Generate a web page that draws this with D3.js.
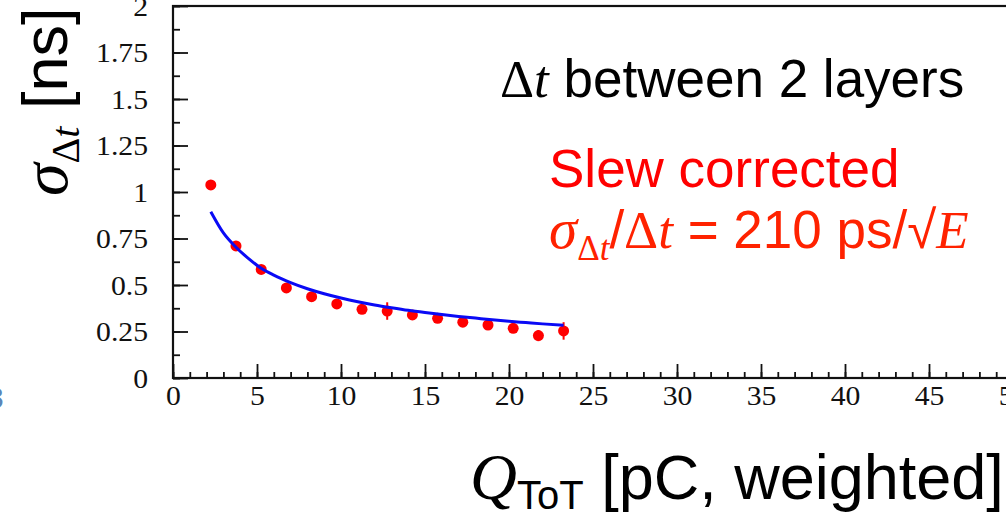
<!DOCTYPE html>
<html>
<head>
<meta charset="utf-8">
<script src="https://cdn.jsdelivr.net/npm/d3@7"></script>
<style>
    body { margin: 0; background: #fff; overflow: hidden; }
    svg { display: block; }
    .serif { font-family: "Liberation Serif", "Times New Roman", serif; }
    .sans { font-family: "Liberation Sans", Arial, Helvetica, sans-serif; }
</style>
</head>
<body>
<div id="chart"></div>
<script>
// measured points (bin centres in Q, sigma in ns)
const charge = [2.25, 3.75, 5.25, 6.75, 8.25, 9.75, 11.25, 12.75, 14.25, 15.75, 17.25, 18.75, 20.25, 21.75, 23.25]
const sigma = [1.038, 0.71, 0.584, 0.484, 0.437, 0.398, 0.369, 0.36, 0.339, 0.321, 0.3, 0.285, 0.267, 0.228, 0.253]
const sigmaErr = [0.012, 0.014, 0.015, 0.016, 0.017, 0.018, 0.02, 0.047, 0.022, 0.024, 0.022, 0.02, 0.02, 0.03, 0.047]

// fitted curve
const fitCharge = [2.25, 3, 3.75, 4.5, 5.25, 6, 7, 8, 9, 10, 11, 12, 13, 14, 15, 16, 17, 18, 19, 20, 21, 22, 23.25]
const fitSigma = [0.894, 0.78, 0.703, 0.642, 0.59, 0.553, 0.513, 0.48, 0.453, 0.43, 0.41, 0.393, 0.378, 0.364, 0.352, 0.341, 0.331, 0.322, 0.313, 0.305, 0.298, 0.291, 0.283]

const xTicks = [0, 5, 10, 15, 20, 25, 30, 35, 40, 45, 50]
const xMinorTicks = d3.range(0, 51, 1)
const yTicks = [0, 0.25, 0.5, 0.75, 1, 1.25, 1.5, 1.75, 2]
const yMinorTicks = d3.range(0, 2.01, 0.125)

const width = 1006
const height = 513
const margin = {left: 173, top: 6, right: -7, bottom: 135}

const x = d3.scaleLinear()
    .domain([0, 50])
    .range([margin.left, width - margin.right])
const y = d3.scaleLinear()
    .domain([0, 2])
    .range([height - margin.bottom, margin.top])

const svg = d3.select("#chart")
    .append("svg")
    .attr("width", width)
    .attr("height", height)

// frame
svg.append("rect")
    .attr("x", x(0))
    .attr("y", y(2))
    .attr("width", x(50) - x(0))
    .attr("height", y(0) - y(2))
    .style("fill", "none")
    .style("stroke", "#111")
    .style("stroke-width", 2.2)

// inward ticks
const tickLine = (g) => g.selectAll(".domain").remove()
const xAxisMinor = svg.append("g")
    .attr("transform", `translate(0,${y(0)})`)
    .call(d3.axisBottom(x).tickValues(xMinorTicks).tickSize(-6).tickFormat(""))
    .call(tickLine)
const xAxis = svg.append("g")
    .attr("transform", `translate(0,${y(0)})`)
    .call(d3.axisBottom(x).tickValues(xTicks).tickSize(-14).tickPadding(30).tickFormat(String))
    .call(tickLine)
const yAxisMinor = svg.append("g")
    .attr("transform", `translate(${x(0)},0)`)
    .call(d3.axisLeft(y).tickValues(yMinorTicks).tickSize(-7).tickFormat(""))
    .call(tickLine)
const yAxis = svg.append("g")
    .attr("transform", `translate(${x(0)},0)`)
    .call(d3.axisLeft(y).tickValues(yTicks).tickSize(-15).tickPadding(40).tickFormat(String))
    .call(tickLine)

svg.selectAll(".tick line")
    .style("stroke", "#111")
    .style("stroke-width", 1.8)

xAxis.selectAll("text")
    .attr("class", "serif")
    .attr("y", 0)
    .attr("dy", 0)
    .attr("transform", "translate(0,27) scale(1.08,1)")
    .style("font-size", "27.5px")
    .style("fill", "#111")
yAxis.selectAll("text")
    .attr("class", "serif")
    .attr("x", 0)
    .attr("dy", "0.34em")
    .attr("transform", "translate(-25,0) scale(1.08,1)")
    .style("font-size", "27.5px")
    .style("fill", "#111")

// error bars
svg.selectAll("line.err")
    .data(charge)
    .enter()
    .append("line")
    .classed("err", true)
    .attr("x1", d => x(d))
    .attr("x2", d => x(d))
    .attr("y1", (d, i) => y(sigma[i] - sigmaErr[i]))
    .attr("y2", (d, i) => y(sigma[i] + sigmaErr[i]))
    .style("stroke", "#f00")
    .style("stroke-width", 2)

svg.selectAll("circle.point")
    .data(charge)
    .enter()
    .append("circle")
    .classed("point", true)
    .attr("cx", d => x(d))
    .attr("cy", (d, i) => y(sigma[i]))
    .attr("r", 5.5)
    .style("fill", "#f00")

const fit = d3.line()
    .x(d => x(d[0]))
    .y(d => y(d[1]))
    .curve(d3.curveMonotoneX)

svg.append("path")
    .datum(d3.zip(fitCharge, fitSigma))
    .attr("d", fit)
    .style("fill", "none")
    .style("stroke", "#0a0af5")
    .style("stroke-width", 3)

// annotations
const note = svg.append("text")
    .attr("x", 500)
    .attr("y", 97)
    .attr("class", "sans")
    .style("font-size", "53px")
    .style("fill", "#000")
note.append("tspan").attr("class", "serif").text("\u0394")
note.append("tspan").attr("class", "serif").style("font-style", "italic").text("t")
note.append("tspan").text(" between 2 layers")

svg.append("text")
    .attr("x", 549)
    .attr("y", 187)
    .attr("class", "sans")
    .style("font-size", "53px")
    .style("fill", "#ff0000")
    .text("Slew corrected")

const formula = svg.append("text")
    .attr("x", 549)
    .attr("y", 248)
    .attr("class", "sans")
    .style("font-size", "53px")
    .style("fill", "#ff2200")
formula.append("tspan").attr("class", "serif").style("font-style", "italic").style("font-size", "57px").text("\u03c3")
formula.append("tspan").attr("class", "serif").attr("dy", 12).style("font-size", "35px").text("\u0394")
formula.append("tspan").attr("class", "serif").style("font-style", "italic").style("font-size", "35px").text("t")
formula.append("tspan").attr("dy", -12).text("/")
formula.append("tspan").attr("class", "serif").text("\u0394")
formula.append("tspan").attr("class", "serif").style("font-style", "italic").text("t")
formula.append("tspan").text(" = 210 ps/\u221a")
formula.append("tspan").attr("class", "serif").style("font-style", "italic").text("E")

// axis titles
const xTitle = svg.append("text")
    .attr("x", 470)
    .attr("y", 499)
    .attr("class", "sans")
    .style("font-size", "63px")
    .style("fill", "#000")
xTitle.append("tspan").attr("class", "serif").style("font-style", "italic").style("font-size", "65px").text("Q")
xTitle.append("tspan").attr("dy", 10).style("font-size", "40px").text("ToT")
xTitle.append("tspan").attr("dy", -10).text(" [pC, weighted]")

const yTitle = svg.append("text")
    .attr("transform", "translate(67,196) rotate(-90)")
    .attr("class", "sans")
    .style("font-size", "63px")
    .style("fill", "#000")
yTitle.append("tspan").attr("class", "serif").style("font-style", "italic").style("font-size", "66px").text("\u03c3")
yTitle.append("tspan").attr("class", "serif").attr("dy", 12).style("font-size", "40px").text("\u0394")
yTitle.append("tspan").attr("class", "serif").style("font-style", "italic").style("font-size", "40px").text("t")
yTitle.append("tspan").attr("dy", -12).text(" [ns]")

// clipped glyph from the neighbouring slide element
svg.append("text")
    .attr("x", -13)
    .attr("y", 408)
    .attr("class", "sans")
    .style("font-size", "30px")
    .style("fill", "#5a86b8")
    .text("3")
</script>
</body>
</html>
